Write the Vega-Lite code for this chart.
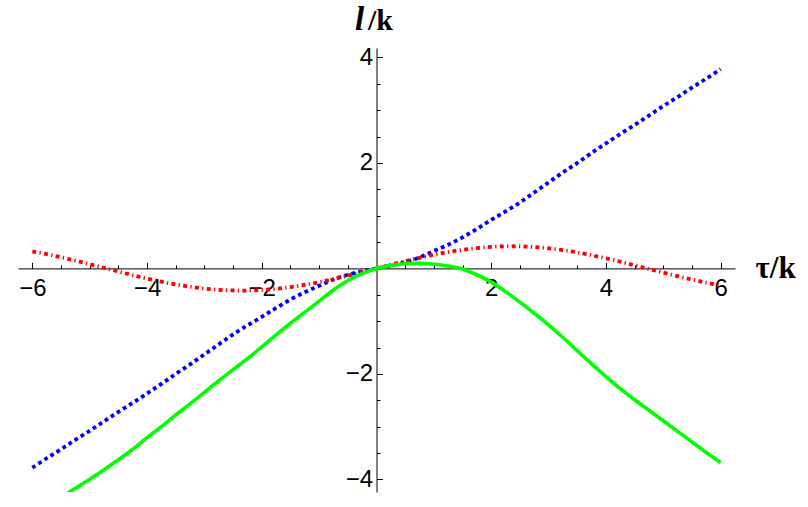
{
  "$schema": "https://vega.github.io/schema/vega-lite/v6.json",
  "width": 717,
  "height": 444,
  "autosize": {"type": "none"},
  "padding": {"left": 18, "top": 48, "right": 73, "bottom": 15},
  "background": "white",
  "config": {"view": {"stroke": null}, "axis": {"labelOverlap": false, "labelFlush": false, "grid": false}},
  "data": {"values": [
    {"s":"blue","t":-6,"v":-3.78},{"s":"blue","t":-5.75,"v":-3.6},{"s":"blue","t":-5.5,"v":-3.43},{"s":"blue","t":-5.25,"v":-3.25},{"s":"blue","t":-5,"v":-3.08},{"s":"blue","t":-4.75,"v":-2.9},{"s":"blue","t":-4.5,"v":-2.72},{"s":"blue","t":-4.25,"v":-2.55},{"s":"blue","t":-4,"v":-2.37},{"s":"blue","t":-3.75,"v":-2.19},{"s":"blue","t":-3.5,"v":-2.0},{"s":"blue","t":-3.25,"v":-1.82},{"s":"blue","t":-3,"v":-1.63},{"s":"blue","t":-2.75,"v":-1.44},{"s":"blue","t":-2.5,"v":-1.25},{"s":"blue","t":-2.25,"v":-1.08},{"s":"blue","t":-2,"v":-0.92},{"s":"blue","t":-1.75,"v":-0.75},{"s":"blue","t":-1.5,"v":-0.59},{"s":"blue","t":-1.25,"v":-0.45},{"s":"blue","t":-1,"v":-0.33},{"s":"blue","t":-0.75,"v":-0.21},{"s":"blue","t":-0.5,"v":-0.12},{"s":"blue","t":-0.25,"v":-0.054},{"s":"blue","t":0,"v":0},
    {"s":"blue","t":0.25,"v":0.054},{"s":"blue","t":0.5,"v":0.12},{"s":"blue","t":0.75,"v":0.21},{"s":"blue","t":1,"v":0.33},{"s":"blue","t":1.25,"v":0.45},{"s":"blue","t":1.5,"v":0.59},{"s":"blue","t":1.75,"v":0.75},{"s":"blue","t":2,"v":0.92},{"s":"blue","t":2.25,"v":1.08},{"s":"blue","t":2.5,"v":1.25},{"s":"blue","t":2.75,"v":1.44},{"s":"blue","t":3,"v":1.63},{"s":"blue","t":3.25,"v":1.82},{"s":"blue","t":3.5,"v":2.0},{"s":"blue","t":3.75,"v":2.19},{"s":"blue","t":4,"v":2.37},{"s":"blue","t":4.25,"v":2.55},{"s":"blue","t":4.5,"v":2.72},{"s":"blue","t":4.75,"v":2.9},{"s":"blue","t":5,"v":3.08},{"s":"blue","t":5.25,"v":3.25},{"s":"blue","t":5.5,"v":3.43},{"s":"blue","t":5.75,"v":3.6},{"s":"blue","t":6,"v":3.78},
    {"s":"red","t":-6,"v":0.325},{"s":"red","t":-5.75,"v":0.27},{"s":"red","t":-5.5,"v":0.211},{"s":"red","t":-5.25,"v":0.147},{"s":"red","t":-5,"v":0.08},{"s":"red","t":-4.75,"v":0.011},{"s":"red","t":-4.5,"v":-0.059},{"s":"red","t":-4.25,"v":-0.128},{"s":"red","t":-4,"v":-0.192},{"s":"red","t":-3.75,"v":-0.251},{"s":"red","t":-3.5,"v":-0.304},{"s":"red","t":-3.25,"v":-0.347},{"s":"red","t":-3,"v":-0.382},{"s":"red","t":-2.75,"v":-0.406},{"s":"red","t":-2.5,"v":-0.418},{"s":"red","t":-2.25,"v":-0.419},{"s":"red","t":-2,"v":-0.408},{"s":"red","t":-1.75,"v":-0.386},{"s":"red","t":-1.5,"v":-0.353},{"s":"red","t":-1.25,"v":-0.311},{"s":"red","t":-1,"v":-0.26},{"s":"red","t":-0.75,"v":-0.201},{"s":"red","t":-0.5,"v":-0.137},{"s":"red","t":-0.25,"v":-0.07},{"s":"red","t":0,"v":0},
    {"s":"red","t":0.25,"v":0.07},{"s":"red","t":0.5,"v":0.137},{"s":"red","t":0.75,"v":0.201},{"s":"red","t":1,"v":0.26},{"s":"red","t":1.25,"v":0.311},{"s":"red","t":1.5,"v":0.353},{"s":"red","t":1.75,"v":0.386},{"s":"red","t":2,"v":0.408},{"s":"red","t":2.25,"v":0.419},{"s":"red","t":2.5,"v":0.418},{"s":"red","t":2.75,"v":0.406},{"s":"red","t":3,"v":0.382},{"s":"red","t":3.25,"v":0.347},{"s":"red","t":3.5,"v":0.304},{"s":"red","t":3.75,"v":0.251},{"s":"red","t":4,"v":0.192},{"s":"red","t":4.25,"v":0.128},{"s":"red","t":4.5,"v":0.059},{"s":"red","t":4.75,"v":-0.011},{"s":"red","t":5,"v":-0.08},{"s":"red","t":5.25,"v":-0.147},{"s":"red","t":5.5,"v":-0.211},{"s":"red","t":5.75,"v":-0.27},{"s":"red","t":6,"v":-0.325},
    {"s":"green","t":-6,"v":-4.66},{"s":"green","t":-5.75,"v":-4.5},{"s":"green","t":-5.5,"v":-4.34},{"s":"green","t":-5.25,"v":-4.17},{"s":"green","t":-5,"v":-4.0},{"s":"green","t":-4.75,"v":-3.82},{"s":"green","t":-4.5,"v":-3.63},{"s":"green","t":-4.25,"v":-3.43},{"s":"green","t":-4,"v":-3.21},{"s":"green","t":-3.75,"v":-3.0},{"s":"green","t":-3.5,"v":-2.78},{"s":"green","t":-3.25,"v":-2.57},{"s":"green","t":-3,"v":-2.35},{"s":"green","t":-2.75,"v":-2.13},{"s":"green","t":-2.5,"v":-1.92},{"s":"green","t":-2.25,"v":-1.71},{"s":"green","t":-2,"v":-1.49},{"s":"green","t":-1.75,"v":-1.26},{"s":"green","t":-1.5,"v":-1.04},{"s":"green","t":-1.25,"v":-0.83},{"s":"green","t":-1,"v":-0.62},{"s":"green","t":-0.75,"v":-0.41},{"s":"green","t":-0.5,"v":-0.23},{"s":"green","t":-0.25,"v":-0.1},{"s":"green","t":0,"v":0},
    {"s":"green","t":0.25,"v":0.058},{"s":"green","t":0.5,"v":0.088},{"s":"green","t":0.75,"v":0.095},{"s":"green","t":1,"v":0.078},{"s":"green","t":1.25,"v":0.045},{"s":"green","t":1.5,"v":-0.01},{"s":"green","t":1.75,"v":-0.12},{"s":"green","t":2,"v":-0.26},{"s":"green","t":2.25,"v":-0.44},{"s":"green","t":2.5,"v":-0.64},{"s":"green","t":2.75,"v":-0.85},{"s":"green","t":3,"v":-1.07},{"s":"green","t":3.25,"v":-1.31},{"s":"green","t":3.5,"v":-1.56},{"s":"green","t":3.75,"v":-1.81},{"s":"green","t":4,"v":-2.05},{"s":"green","t":4.25,"v":-2.28},{"s":"green","t":4.5,"v":-2.49},{"s":"green","t":4.75,"v":-2.69},{"s":"green","t":5,"v":-2.89},{"s":"green","t":5.25,"v":-3.09},{"s":"green","t":5.5,"v":-3.29},{"s":"green","t":5.75,"v":-3.49},{"s":"green","t":6,"v":-3.68}
  ]},
  "encoding": {
    "x": {
      "field": "t", "type": "quantitative",
      "scale": {"domain": [-6.25, 6.25], "nice": false, "zero": false},
      "axis": {
        "orient": "bottom",
        "offset": -223.6,
        "values": [-6,-5.5,-5,-4.5,-4,-3.5,-3,-2.5,-2,-1.5,-1,-0.5,0.5,1,1.5,2,2.5,3,3.5,4,4.5,5,5.5,6],
        "labelExpr": "datum.value % 2 === 0 ? replace(toString(datum.value), '-', '−') : ''",
        "labelOverlap": false,
        "labelFlush": false,
        "labelFont": "Liberation Sans",
        "labelFontSize": 24,
        "labelColor": "black",
        "labelPadding": 14,
        "grid": false,
        "domainColor": "black",
        "domainWidth": 1,
        "tickColor": "black",
        "tickWidth": 1,
        "tickSize": {"condition": {"test": "datum.value % 2 === 0", "value": -6}, "value": -3.5},
        "title": "τ/k",
        "titleFont": "Liberation Serif",
        "titleFontWeight": "bold",
        "titleFontSize": 31,
        "titleColor": "black",
        "titleAngle": 0,
        "titleAlign": "left",
        "titleBaseline": "alphabetic",
        "titleX": 737,
        "titleY": 9.5
      }
    },
    "order": {"field": "t", "type": "quantitative"}
  },
  "layer": [
    {
      "transform": [{"filter": "datum.s !== 'green'"}],
      "mark": {"type": "line", "strokeWidth": 3.8, "clip": true, "strokeCap": "butt", "interpolate": "catmull-rom"},
      "encoding": {
        "y": {
          "field": "v", "type": "quantitative",
          "scale": {"domain": [-4.24, 4.18], "nice": false, "zero": false},
          "axis": {
            "orient": "left",
            "offset": -358.5,
            "domain": false,
            "ticks": false,
            "labels": false,
            "grid": false,
            "title": "/k",
            "titleFont": "Liberation Serif",
            "titleFontWeight": "bold",
            "titleFontSize": 30,
            "titleColor": "black",
            "titleAngle": 0,
            "titleAlign": "left",
            "titleBaseline": "alphabetic",
            "titleX": -9,
            "titleY": -19
          }
        },
        "color": {"field": "s", "type": "nominal", "scale": {"domain": ["red", "blue", "green"], "range": ["#ff0000", "#0000ff", "#00ff00"]}, "legend": null},
        "strokeDash": {"field": "s", "type": "nominal", "scale": {"domain": ["red", "blue", "green"], "range": [[4, 3.3, 1.3, 3.3], [3.8, 3.4], [1, 0]]}, "legend": null}
      }
    },
    {
      "transform": [{"filter": "datum.s === 'green'"}],
      "mark": {"type": "line", "strokeWidth": 3.6, "clip": true, "color": "#00ff00", "interpolate": "catmull-rom"},
      "encoding": {
        "y": {
          "field": "v", "type": "quantitative",
          "axis": {
            "orient": "left",
            "offset": -358.5,
            "values": [-4,-3.5,-3,-2.5,-2,-1.5,-1,-0.5,0.5,1,1.5,2,2.5,3,3.5,4],
            "labelExpr": "datum.value % 2 === 0 ? replace(toString(datum.value), '-', '−') : ''",
            "labelOverlap": false,
            "labelFlush": false,
            "labelFont": "Liberation Sans",
            "labelFontSize": 24,
            "labelColor": "black",
            "labelPadding": 10,
            "grid": false,
            "domainColor": "black",
            "domainWidth": 1,
            "tickColor": "black",
            "tickWidth": 1,
            "tickSize": {"condition": {"test": "datum.value % 2 === 0", "value": -6}, "value": -3.5},
            "title": "l",
            "titleFont": "Liberation Serif",
            "titleFontWeight": "bold",
            "titleFontStyle": "italic",
            "titleFontSize": 33,
            "titleColor": "black",
            "titleAngle": 0,
            "titleAlign": "left",
            "titleBaseline": "alphabetic",
            "titleX": -22,
            "titleY": -19
          }
        }
      }
    }
  ],
  "resolve": {"axis": {"y": "independent"}}
}
